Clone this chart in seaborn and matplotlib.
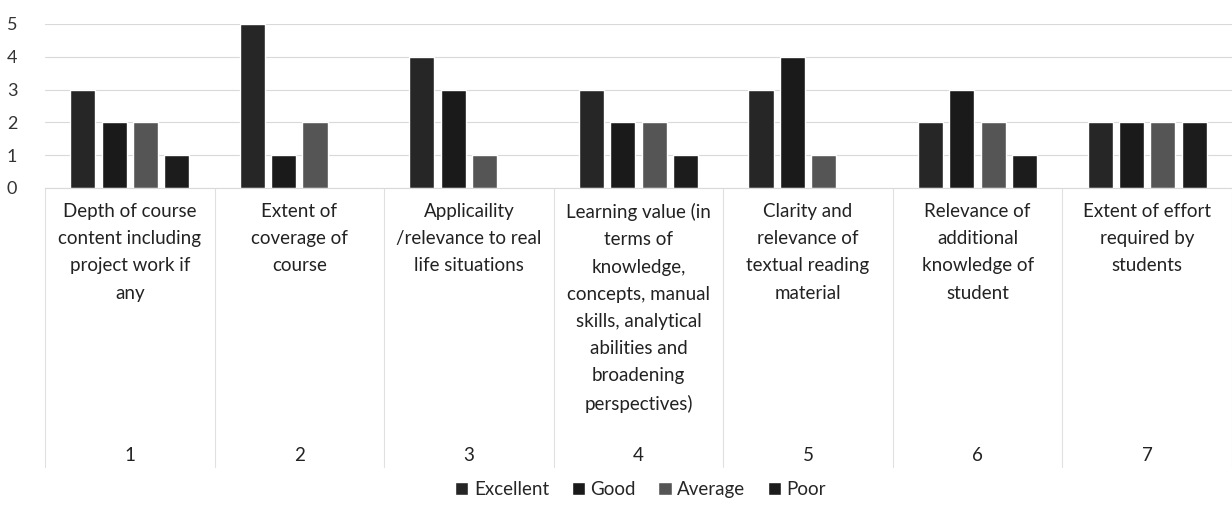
import pandas as pd
import matplotlib
matplotlib.use("Agg")
import matplotlib.pyplot as plt
import matplotlib.transforms as mtransforms
import seaborn as sns

# ratings per course-feedback item (number of responses)
items = ["1", "2", "3", "4", "5", "6", "7"]
item_labels = [
    "Depth of course\ncontent including\nproject work if\nany",
    "Extent of\ncoverage of\ncourse",
    "Applicaility\n/relevance to real\nlife situations",
    "Learning value (in\nterms of\nknowledge,\nconcepts, manual\nskills, analytical\nabilities and\nbroadening\nperspectives)",
    "Clarity and\nrelevance of\ntextual reading\nmaterial",
    "Relevance of\nadditional\nknowledge of\nstudent",
    "Extent of effort\nrequired by\nstudents",
]
ratings = ["Excellent", "Good", "Average", "Poor"]
excellent = [3, 5, 4, 3, 3, 2, 2]
good = [2, 1, 3, 2, 4, 3, 2]
average = [2, 2, 1, 2, 1, 2, 2]
poor = [1, 0, 0, 1, 0, 1, 2]
colors = ["#262626", "#1a1a1a", "#555555", "#1c1c1c"]

rows = []
for series, name in zip([excellent, good, average, poor], ratings):
    for it, v in zip(items, series):
        rows.append({"item": it, "rating": name, "count": v})
df = pd.DataFrame(rows)

sns.set_style("white")
plt.rcParams["font.family"] = ["Lato", "DejaVu Sans"]

fig = plt.figure(figsize=(12.32, 5.12), dpi=100)
ax = fig.add_axes([0.0365, 1 - 188 / 512, 1 - 0.0365, 164 / 512])

sns.barplot(data=df, x="item", y="count", hue="rating", hue_order=ratings,
            palette=colors, width=0.74, gap=0.2, ax=ax, legend=True)

ax.yaxis.grid(True, color="#d9d9d9", linewidth=0.8)
ax.set_axisbelow(True)
for s in ["top", "right", "left"]:
    ax.spines[s].set_visible(False)
ax.spines["bottom"].set_color("#d9d9d9")
ax.tick_params(axis="y", length=0, pad=20, labelsize=13, labelcolor="#333333")
ax.tick_params(axis="x", length=0, pad=11)
ax.set_xticks(range(len(items)))
ax.set_xticklabels(item_labels, fontsize=13.5, linespacing=1.72,
                   color="#222222", va="top")
ax.set_xlabel("")
ax.set_ylabel("")

# outer category level: item numbers and separators
trans = mtransforms.blended_transform_factory(ax.transData, ax.transAxes)
for i, it in enumerate(items):
    ax.text(i, -1.63, it, transform=trans, ha="center", va="center",
            fontsize=13.5, color="#222222")
for k in range(len(items) + 1):
    ax.plot([k - 0.5, k - 0.5], [0, -1.7], transform=trans, color="#e0e0e0",
            linewidth=0.8, clip_on=False)

ax.set_xlim(-0.5, len(items) - 0.5)
ax.set_ylim(0, 5)
ax.set_yticks(range(0, 6))

handles, labels = ax.get_legend_handles_labels()
ax.get_legend().remove()
fig.legend(handles, labels, loc="lower center", bbox_to_anchor=(0.52, -0.005),
           ncol=4, frameon=False, fontsize=13.5, handlelength=0.7,
           handleheight=0.7, handletextpad=0.3, columnspacing=1.2)

fig.savefig("out.png", dpi=100)
